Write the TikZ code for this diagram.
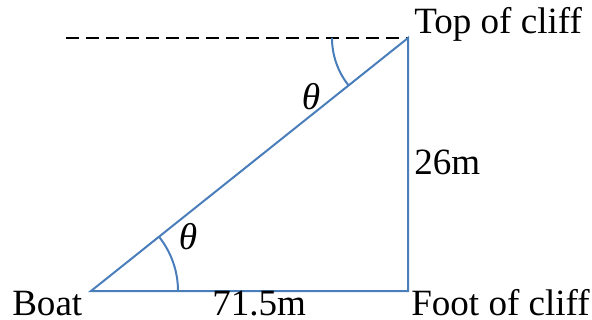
\documentclass[tikz,border=0pt]{standalone}
\usepackage{fontspec}
\setmainfont{Liberation Serif}
\begin{document}
\begin{tikzpicture}[x=0.75pt,y=-0.75pt,
  side/.style={draw=blueline,line width=1.5pt},
  lbl/.style={font=\fontsize{27.8}{32}\selectfont,inner sep=0pt},
  ang/.style={font=\fontsize{28}{32}\selectfont\itshape,inner sep=0pt}]
\definecolor{blueline}{HTML}{4A7EBB}
\useasboundingbox (0,0) rectangle (592,320);
\coordinate (B) at (91,291);
\coordinate (F) at (408,291);
\coordinate (T) at (408,38);
\coordinate (D) at (66,38);
\draw[black,line width=1.2pt,dash pattern=on 9.5pt off 5.5pt] (D) -- (T);
\draw[side] (B) -- (F) -- (T) -- cycle;
\draw[side] ([xshift=87*0.75pt]B) arc[start angle=0,end angle=38.6,radius=65.25pt];
\draw[side] ([xshift=-76*0.75pt]T) arc[start angle=180,end angle=218.6,radius=57pt];
\node[lbl,anchor=base west] (tb) at (12,315) {Boat};
\node[lbl,anchor=base west] (tl) at (212,315) {71.5m};
\node[lbl,anchor=base west] (tf) at (411,315) {Foot of cliff};
\node[lbl,anchor=base west] (th) at (414,175) {26m};
\node[lbl,anchor=base west] (tt) at (414,34) {Top of cliff};
\node[ang] (a1) at (311,97) {θ};
\node[ang] (a2) at (188,237) {θ};
\end{tikzpicture}
\end{document}
